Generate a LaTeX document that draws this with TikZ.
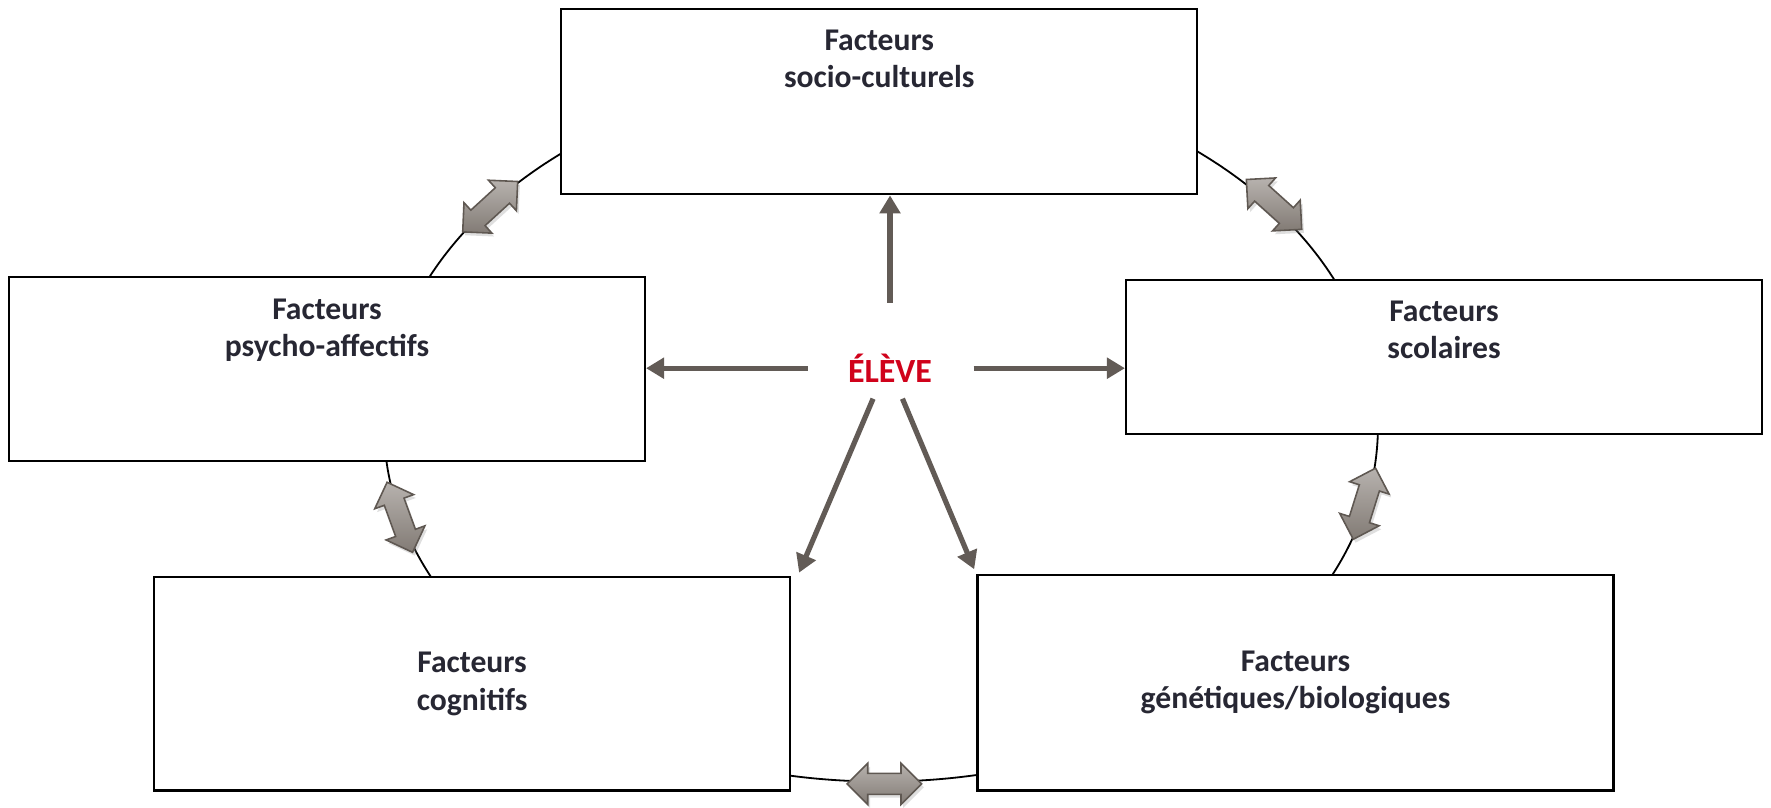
\documentclass[tikz,border=0pt]{standalone}
\usepackage{fontspec}
\setmainfont{Carlito}
\usetikzlibrary{shapes.arrows,arrows.meta,calc,positioning,shadows}
\definecolor{ink}{HTML}{272733}
\definecolor{rougeeleve}{HTML}{D0021B}
\definecolor{fleche}{HTML}{625B56}
\definecolor{lienclair}{HTML}{B7B2AE}
\definecolor{lienfonce}{HTML}{827B75}
\definecolor{lienbord}{HTML}{5F5852}

\begin{document}
\begin{tikzpicture}[x=0.5pt, y=-0.5pt, font=\fontsize{14}{16.5}\selectfont\bfseries,
	cadre/.style={draw, fill=white, line width=1pt, minimum width=281.5pt, inner sep=0pt, text=ink, align=center},
	titre/.style={text=ink, align=center, inner sep=0pt},
	push/.style={draw=fleche, line width=2.3pt, -{Triangle[length=8pt, width=9pt]}},
	lien/.style={double arrow, draw=lienbord, line width=0.7pt, top color=lienclair, bottom color=lienfonce,
		minimum height=33pt, inner xsep=0pt, inner ysep=4.3pt, double arrow head extend=4.5pt,
		drop shadow={opacity=0.25, shadow xshift=1pt, shadow yshift=-1.5pt}}]
\useasboundingbox (0,0) rectangle (1568,715);
\draw[line width=0.8pt] (780,377) ellipse [x radius=440, y radius=315];

\node[cadre, minimum height=82pt] (socio) at (778.5,90) {};
\node[cadre, minimum height=81.5pt] (psycho) at (289.5,326.5) {};
\node[cadre, minimum height=68pt] (scolaires) at (1278.5,316) {};
\node[cadre, minimum height=94.5pt] (cognitifs) at (418,605.5) {Facteurs\\cognitifs};
\node[cadre, minimum height=95.5pt] (genetiques) at (1147,604.5) {Facteurs\\génétiques/biologiques};
\node[titre, below=9.5pt of socio.north] (socio-titre) {Facteurs\\socio-culturels};
\node[titre, below=10pt of psycho.north] (psycho-titre) {Facteurs\\psycho-affectifs};
\node[titre, below=9.5pt of scolaires.north] (scolaires-titre) {Facteurs\\scolaires};

\node[text=rougeeleve, inner sep=0pt, font=\fontsize{15}{18}\selectfont\bfseries] (eleve) at (788,326) {ÉLÈVE};
\draw[push] ($(eleve)+(0,-58)$) -- (eleve |- socio.south);
\draw[push] ($(eleve)+(-73,0)$) -- (eleve -| psycho.east);
\draw[push] ($(eleve)+(74,0)$) -- (eleve -| scolaires.west);
\draw[push] ($(eleve)+(-15,27)$) -- ($(cognitifs.north east)+(7,-3)$);
\draw[push] ($(eleve)+(11,27)$) -- ($(genetiques.north west)+(-2,-4)$);

\node[lien, rotate=42.5] (lien-psycho-socio) at (434,183) {};
\node[lien, rotate=-42] (lien-socio-scolaires) at (1128,181) {};
\node[lien, rotate=72.6] (lien-scolaires-genetiques) at (1208,446) {};
\node[lien, rotate=-70] (lien-psycho-cognitifs) at (354,458) {};
\node[lien] (lien-cognitifs-genetiques) at (783,694) {};
\end{tikzpicture}
\end{document}
